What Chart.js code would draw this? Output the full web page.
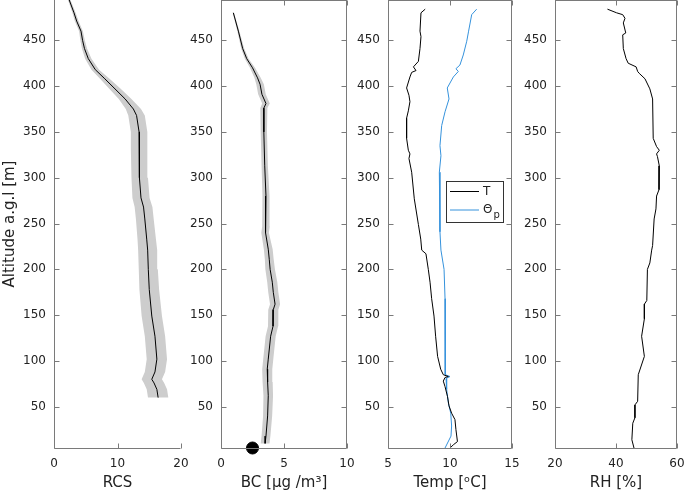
<!DOCTYPE html>
<html>
<head>
<meta charset="utf-8">
<script src="https://cdn.jsdelivr.net/npm/chart.js@4/dist/chart.umd.min.js"></script>
<style>
body{margin:0;background:#fff;}
#wrap{position:relative;width:685px;height:497px;}
#wrap canvas{position:absolute;left:0;top:0;}
</style>
</head>
<body>
<div id="wrap">
<canvas id="rcs" width="685" height="497"></canvas>
<canvas id="bc" width="685" height="497"></canvas>
<canvas id="temp" width="685" height="497"></canvas>
<canvas id="rh" width="685" height="497"></canvas>
</div>
<script>
// altitude range and ticks (shared by all panels)
var altMin = 5, altMax = 494;
var altTicks = [50, 100, 150, 200, 250, 300, 350, 400, 450];

// RCS profile
var rcsAlt = [494, 480, 471, 460, 450, 441, 430, 418, 408, 397, 386, 375, 368, 350, 332, 300, 278, 268, 255, 233, 221, 200, 178, 149, 127, 102, 88, 80, 76, 69, 60];
var rcsVal = [2.4, 3.15, 3.57, 4.25, 4.5, 4.8, 5.4, 6.5, 8.0, 9.6, 11.2, 12.5, 13.0, 13.4, 13.4, 13.5, 13.7, 14.1, 14.3, 14.6, 14.75, 14.85, 15.0, 15.4, 15.9, 16.2, 15.9, 15.4, 15.75, 16.2, 16.4];
var rcsErr = [0.2, 0.25, 0.3, 0.3, 0.35, 0.4, 0.5, 0.6, 0.75, 0.9, 1.0, 1.2, 1.3, 1.3, 1.3, 1.3, 1.35, 1.4, 1.4, 1.45, 1.5, 1.5, 1.55, 1.6, 1.6, 1.6, 1.6, 1.6, 1.6, 1.6, 1.6];
var rcsTicks = [0, 10, 20];

// BC profile
var bcAlt = [480, 460, 441, 430, 420, 409, 402, 391, 381, 376, 350, 313, 280, 247, 240, 222, 211, 200, 186, 175, 162, 156, 138, 127, 102, 91, 77, 62, 40, 18, 10];
var bcVal = [0.98, 1.38, 1.72, 2.04, 2.5, 2.9, 3.1, 3.25, 3.57, 3.4, 3.4, 3.47, 3.57, 3.57, 3.5, 3.75, 3.83, 3.9, 4.07, 4.15, 4.29, 4.15, 4.13, 3.94, 3.75, 3.67, 3.7, 3.75, 3.7, 3.57, 3.5];
var bcErr = [0.05, 0.08, 0.12, 0.15, 0.2, 0.25, 0.3, 0.3, 0.3, 0.28, 0.25, 0.25, 0.28, 0.3, 0.3, 0.35, 0.35, 0.38, 0.4, 0.4, 0.4, 0.4, 0.4, 0.4, 0.4, 0.4, 0.4, 0.38, 0.36, 0.35, 0.35];
var bcGround = [{x: 2.5, y: 5}];
var bcTicks = [0, 5, 10];

// temperature profiles
var tAlt = [484, 480, 460, 454, 441, 427, 421, 417, 415, 410, 398, 390, 383, 373, 365, 343, 330, 326, 321, 306, 277, 249, 233, 221, 217, 200, 186, 168, 149, 127, 105, 91, 85, 83, 82, 78, 72, 61, 51, 43, 36, 25, 12, 8.5, 5];
var tVal = [8.0, 7.66, 7.58, 7.66, 7.58, 7.45, 7.05, 7.26, 6.91, 6.77, 6.5, 6.69, 6.77, 6.64, 6.5, 6.5, 6.64, 6.77, 6.69, 6.91, 7.12, 7.45, 7.64, 7.72, 8.06, 8.25, 8.39, 8.52, 8.71, 8.84, 9.0, 9.25, 9.46, 9.87, 9.6, 9.46, 9.6, 9.8, 9.92, 10.13, 10.4, 10.48, 10.6, 10.27, 10.0];
var thAlt = [484, 478, 460, 449, 434, 423, 419, 416, 410, 398, 386, 372, 357, 335, 324, 306, 277, 241, 221, 200, 168, 127, 98, 85, 83, 81, 69, 54, 43, 29, 18, 5];
var thVal = [12.15, 11.75, 11.5, 11.35, 11.07, 10.8, 10.48, 10.67, 10.27, 9.78, 9.92, 9.6, 9.33, 9.19, 9.27, 9.14, 9.19, 9.19, 9.27, 9.52, 9.6, 9.6, 9.6, 9.65, 10.0, 9.68, 9.73, 9.87, 10.06, 10.13, 10.08, 9.6];
var tempTicks = [5, 10, 15];

// relative humidity
var rhAlt = [484, 480, 478, 474, 469, 458, 456, 441, 430, 425, 421, 416, 414, 408, 397, 386, 343, 334, 330, 326, 323, 313, 287, 280, 266, 255, 226, 221, 207, 200, 166, 162, 146, 127, 105, 85, 56, 52, 38, 32, 14, 5];
var rhVal = [37.2, 40.2, 42.2, 42.95, 42.4, 43.2, 42.2, 42.4, 43.3, 44.0, 46.6, 47.1, 47.6, 49.5, 51.1, 52.0, 52.2, 53.3, 54.2, 53.3, 53.6, 54.2, 54.1, 53.3, 53.1, 52.5, 52.0, 51.7, 51.1, 50.3, 50.1, 49.3, 49.3, 48.4, 49.3, 47.3, 47.1, 46.2, 46.2, 45.5, 45.2, 45.9];
var rhTicks = [20, 40, 60];

var axisColor = '#7a7a7a';
var textColor = '#222';
var fontName = "'DejaVu Sans', sans-serif";

function pts(xs, ys) {
    var out = [];
    for (var i = 0; i < xs.length; i++) out.push({x: xs[i], y: ys[i]});
    return out;
}

// closed polygon: value-err going down, value+err coming back up
function band(xs, err, ys) {
    var out = [];
    for (var i = 0; i < xs.length; i++) out.push({x: xs[i] - err[i], y: ys[i]});
    for (var j = xs.length - 1; j >= 0; j--) out.push({x: xs[j] + err[j], y: ys[j]});
    out.push({x: xs[0] - err[0], y: ys[0]});
    return out;
}

// inward ticks + frame
var frame = {
    id: 'frame',
    afterDraw: function(chart, args, opts) {
        var ctx = chart.ctx, a = chart.chartArea;
        var xs = chart.scales.x, ys = chart.scales.y;
        var L = Math.round(a.left) + 0.5, R = Math.round(a.right) - 0.5;
        var T = Math.round(a.top) + 0.5, B = Math.round(a.bottom) + 0.5;
        ctx.save();
        ctx.strokeStyle = axisColor;
        ctx.lineWidth = 1;
        ctx.beginPath();
        ctx.moveTo(L, T - 1); ctx.lineTo(L, B); ctx.lineTo(R, B);
        if (opts.box) { ctx.lineTo(R, T - 1); ctx.moveTo(L, T); ctx.lineTo(R, T); }
        xs.ticks.forEach(function(t) {
            var px = Math.round(xs.getPixelForValue(t.value)) + 0.5;
            ctx.moveTo(px, B); ctx.lineTo(px, B - 5);
            if (opts.box) { ctx.moveTo(px, T); ctx.lineTo(px, T + 5); }
        });
        ys.ticks.forEach(function(t) {
            var py = Math.round(ys.getPixelForValue(t.value)) + 0.5;
            ctx.moveTo(L, py); ctx.lineTo(L + 5, py);
            if (opts.box) { ctx.moveTo(R, py); ctx.lineTo(R - 5, py); }
        });
        ctx.stroke();
        ctx.restore();
    }
};

// small boxed legend inside the temperature panel
var boxLegend = {
    id: 'boxLegend',
    afterDraw: function(chart, args, opts) {
        if (!opts.show) return;
        var ctx = chart.ctx;
        var x0 = opts.x, y0 = opts.y, w = 57, h = 41;
        ctx.save();
        ctx.fillStyle = '#fff';
        ctx.fillRect(x0, y0, w, h);
        ctx.strokeStyle = '#333';
        ctx.lineWidth = 1;
        ctx.strokeRect(x0 + 0.5, y0 + 0.5, w, h);
        ctx.font = '12px ' + fontName;
        ctx.textBaseline = 'middle';
        chart.data.datasets.forEach(function(ds, i) {
            var ly = y0 + 10.5 + i * 18.5;
            ctx.strokeStyle = ds.borderColor;
            ctx.beginPath();
            ctx.moveTo(x0 + 4, ly); ctx.lineTo(x0 + 33, ly);
            ctx.stroke();
            ctx.fillStyle = textColor;
            var parts = ds.label.split('_');
            ctx.font = '12px ' + fontName;
            ctx.fillText(parts[0], x0 + 37, ly);
            if (parts[1]) {
                var wd = ctx.measureText(parts[0]).width;
                ctx.font = '10px ' + fontName;
                ctx.fillText(parts[1], x0 + 38 + wd, ly + 5);
            }
        });
        ctx.restore();
    }
};

function makePanel(id, left, right, xMin, xMax, xTicks, xTitle, yTitle, box, datasets, legend) {
    var ctx = document.getElementById(id);
    return new Chart(ctx, {
        type: 'scatter',
        data: {datasets: datasets},
        plugins: [frame, boxLegend],
        options: {
            responsive: false,
            animation: false,
            layout: {autoPadding: false, padding: {left: 0, right: 685 - right, top: 0, bottom: 0}},
            plugins: {
                legend: {display: false},
                tooltip: {enabled: false},
                frame: {box: box},
                boxLegend: legend || {show: false}
            },
            scales: {
                x: {
                    type: 'linear', min: xMin, max: xMax,
                    grid: {display: false, drawTicks: false},
                    border: {display: false},
                    afterBuildTicks: function(s) { s.ticks = xTicks.map(function(v) { return {value: v}; }); },
                    afterFit: function(s) { s.height = 49; s.paddingLeft = 0; s.paddingRight = 0; },
                    ticks: {padding: 9, color: textColor, font: {family: fontName, size: 12}},
                    title: {display: true, text: xTitle, color: textColor, font: {family: fontName, size: 15}, padding: {top: 0, bottom: 5}}
                },
                y: {
                    type: 'linear', min: altMin, max: altMax,
                    grid: {display: false, drawTicks: false},
                    border: {display: false},
                    afterBuildTicks: function(s) { s.ticks = altTicks.map(function(v) { return {value: v}; }); },
                    afterFit: function(s) { s.width = left; s.paddingTop = 0; s.paddingBottom = 0; },
                    ticks: {padding: 8, color: textColor, font: {family: fontName, size: 12}},
                    title: {display: !!yTitle, text: yTitle || '', color: textColor, font: {family: fontName, size: 15}, padding: {top: 1, bottom: 0}}
                }
            }
        }
    });
}

makePanel('rcs', 54, 181, 0, 20, rcsTicks, 'RCS', 'Altitude a.g.l [m]', false, [
    {label: 'RCS', data: pts(rcsVal, rcsAlt), borderColor: '#000', showLine: true, pointRadius: 0, borderWidth: 1, fill: false},
    {label: 'spread', data: band(rcsVal, rcsErr, rcsAlt), showLine: true, pointRadius: 0, borderWidth: 0, borderColor: 'rgba(0,0,0,0)', backgroundColor: '#cdcdcd', fill: 'shape'}
]);

makePanel('bc', 221, 347, 0, 10, bcTicks, 'BC [\u03bcg /m\u00b3]', null, true, [
    {label: 'ground', data: bcGround, pointRadius: 6, pointBackgroundColor: '#000', pointBorderColor: '#000', clip: false},
    {label: 'BC', data: pts(bcVal, bcAlt), borderColor: '#000', showLine: true, pointRadius: 0, borderWidth: 1, fill: false},
    {label: 'spread', data: band(bcVal, bcErr, bcAlt), showLine: true, pointRadius: 0, borderWidth: 0, borderColor: 'rgba(0,0,0,0)', backgroundColor: '#cdcdcd', fill: 'shape'}
]);

makePanel('temp', 388, 512, 5, 15, tempTicks, 'Temp [\u1d52C]', null, true, [
    {label: 'T', data: pts(tVal, tAlt), borderColor: '#000', showLine: true, pointRadius: 0, borderWidth: 1, fill: false},
    {label: '\u0398_p', data: pts(thVal, thAlt), borderColor: '#3592dc', showLine: true, pointRadius: 0, borderWidth: 1, fill: false}
], {show: true, x: 446, y: 181});

makePanel('rh', 555, 677, 20, 60, rhTicks, 'RH [%]', null, true, [
    {label: 'RH', data: pts(rhVal, rhAlt), borderColor: '#000', showLine: true, pointRadius: 0, borderWidth: 1, fill: false}
]);
</script>
</body>
</html>
